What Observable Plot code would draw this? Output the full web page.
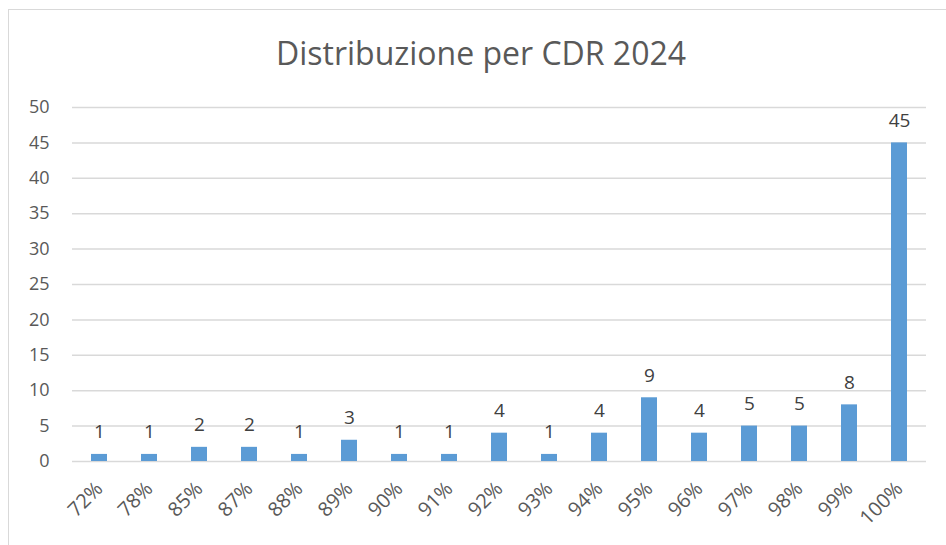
<!DOCTYPE html>
<html>
<head>
<meta charset="utf-8">
<script src="https://cdn.jsdelivr.net/npm/d3@7"></script>
<script src="https://cdn.jsdelivr.net/npm/@observablehq/plot@0.6"></script>
<style>
  html, body { margin: 0; padding: 0; background: #fff; }
  #wrap { position: relative; width: 946px; height: 545px; overflow: hidden; font-family: "Open Sans", sans-serif; }
  #frame { position: absolute; left: 8px; top: 9px; width: 960px; height: 600px; border: 1.5px solid #d9d9d9; box-sizing: border-box; }
  #title { position: absolute; left: 0; top: 33px; width: 962px; text-align: center; font-size: 32px; color: #595959; line-height: 40px; }
  #chart { position: absolute; left: 0; top: 0; }
</style>
</head>
<body>
<div id="wrap">
  <div id="frame"></div>
  <div id="title">Distribuzione per CDR 2024</div>
  <div id="chart"></div>
</div>
<script>
const categories = ["72%","78%","85%","87%","88%","89%","90%","91%","92%","93%","94%","95%","96%","97%","98%","99%","100%"];
const counts = [1,1,2,2,1,3,1,1,4,1,4,9,4,5,5,8,45];
const yTicks = [0,5,10,15,20,25,30,35,40,45,50];

const data = categories.map((c, i) => ({cat: c, n: counts[i]}));

const chart = Plot.plot({
  width: 946,
  height: 545,
  marginLeft: 72,
  marginRight: 20,
  marginTop: 107,
  marginBottom: 84,
  style: {fontFamily: "Open Sans, sans-serif", fontSize: "18px", color: "#595959", background: "transparent"},
  x: {domain: categories, paddingInner: 0.68, paddingOuter: 0.34, label: null},
  y: {domain: [0, 50], label: null},
  marks: [
    Plot.ruleY(yTicks, {stroke: "#d9d9d9", strokeWidth: 1.5}),
    Plot.barY(data, {x: "cat", y: "n", fill: "#5b9bd5"}),
    Plot.text(data, {x: "cat", y: "n", text: d => String(d.n), lineAnchor: "bottom", dy: -16, fill: "#404040", fontSize: 19}),
    Plot.axisY(yTicks, {tickSize: 0, tickPadding: 23, fontSize: 18, fill: "#595959", label: null}),
    Plot.axisX({tickSize: 0, tickRotate: -45, tickPadding: 24, fontSize: 20, fill: "#595959", label: null})
  ]
});
document.getElementById("chart").appendChild(chart);
</script>
</body>
</html>
